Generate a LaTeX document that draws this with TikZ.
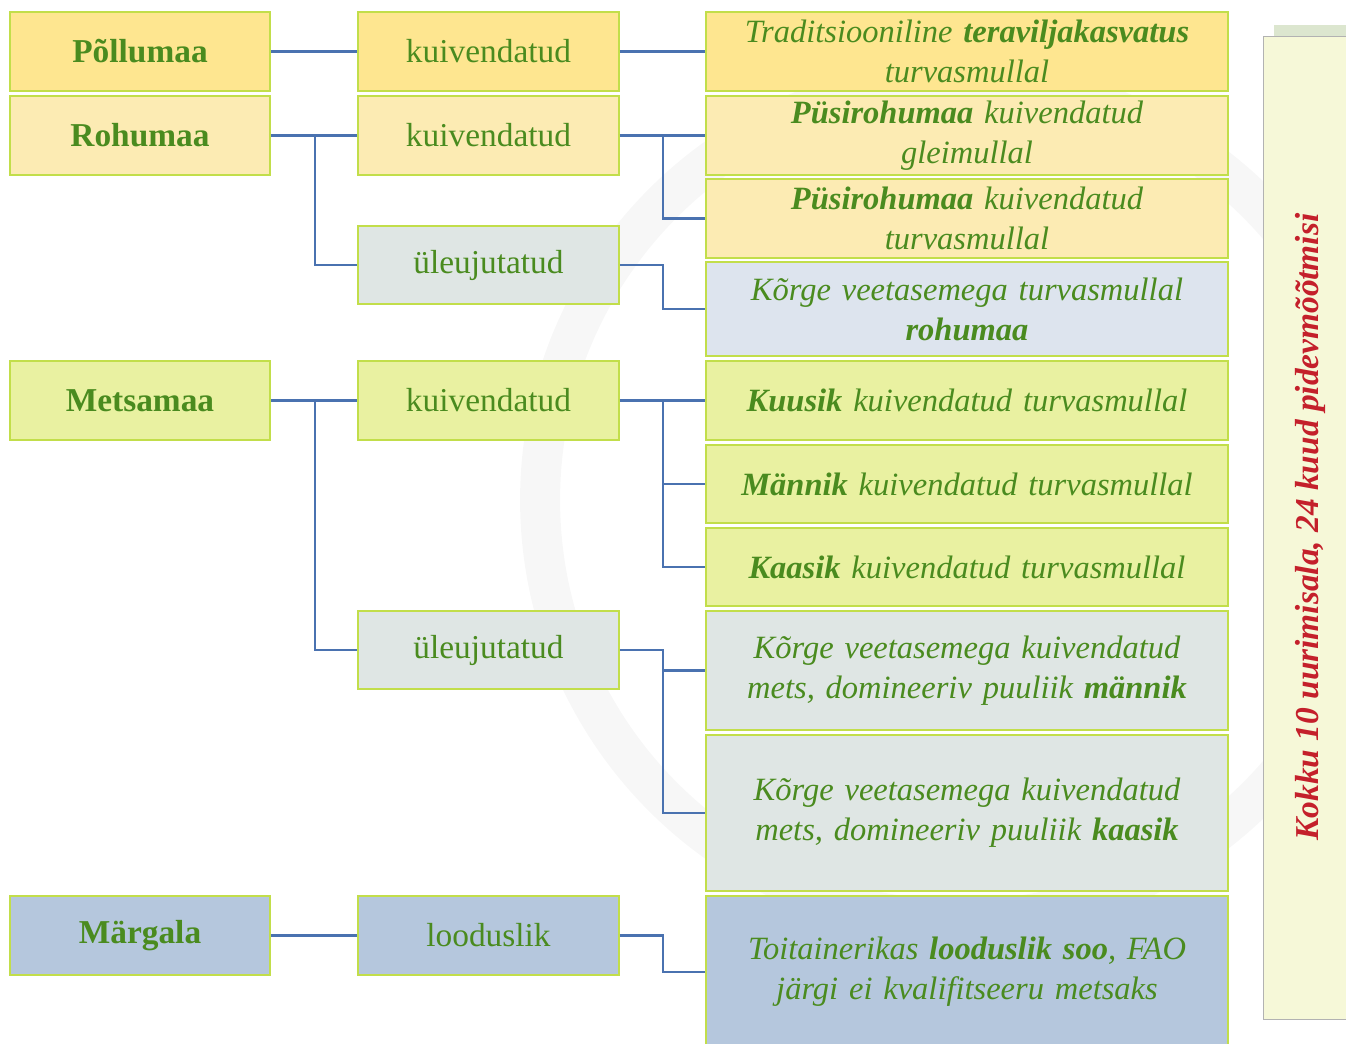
\documentclass[tikz,border=0pt]{standalone}
\usepackage{fontspec}
\setmainfont{Liberation Serif}
\usepackage{tikz}
\usetikzlibrary{positioning}
\definecolor{txtgreen}{HTML}{4A8B1F}
\definecolor{boxrim}{HTML}{C2DE4A}
\definecolor{linkblue}{HTML}{4A72B0}
\definecolor{pollufill}{HTML}{FEE690}
\definecolor{rohufill}{HTML}{FCEBB3}
\definecolor{ulefill}{HTML}{DFE6E4}
\definecolor{rohuwet}{HTML}{DDE4EE}
\definecolor{metsfill}{HTML}{E9F1A1}
\definecolor{margfill}{HTML}{B5C7DD}
\definecolor{panelfill}{HTML}{F6F8D8}
\definecolor{panelstrip}{HTML}{DCE6CF}
\definecolor{kokkured}{HTML}{C4202B}
\tikzstyle{box}=[draw=boxrim, line width=1.1pt, shape=rectangle, text=txtgreen, align=center, inner sep=2pt]
\tikzstyle{typ}=[box, minimum width=5.2cm, minimum height=1.58cm, font=\fontsize{19}{22}\selectfont\bfseries]
\tikzstyle{sub}=[box, minimum width=5.22cm, minimum height=1.58cm, font=\fontsize{19}{22}\selectfont]
\tikzstyle{site}=[box, minimum width=10.44cm, text width=10.2cm, font=\fontsize{18.5}{22.7}\selectfont\itshape]
\tikzstyle{link}=[draw=linkblue, line width=1.2pt]

\begin{document}
\begin{tikzpicture}[x=0.02cm, y=-0.02cm]
\useasboundingbox (0,0) rectangle (1346,1044);
% faint logo in the background
\draw[black!3, line width=0.8cm] (960,500) circle (8.4cm);
% the side panel
\fill[panelstrip] (1274,25) rectangle (1346,36);
\filldraw[fill=panelfill, draw=black!30] (1346,36) -- (1263,36) -- (1263,1019) -- (1346,1019);
\node[rotate=90, text=kokkured, font=\fontsize{19}{22}\selectfont\bfseries\itshape] (kokku) at (1310,527) {Kokku 10 uurimisala, 24 kuud pidevmõõtmisi};
% the land use types
\node[typ, fill=pollufill] (P1) at (140,51.5) {Põllumaa};
\node[typ, fill=rohufill] (P2) at (140,135.5) {Rohumaa};
\node[typ, fill=metsfill] (P3) at (140,400.5) {Metsamaa};
\node[typ, fill=margfill] (P4) at (140,935.5) {Märgala};
% the water regimes
\node[sub, fill=pollufill] (K1) at (488.5,51.5) {kuivendatud};
\node[sub, fill=rohufill] (K2) at (488.5,135.5) {kuivendatud};
\node[sub, fill=ulefill, minimum height=1.56cm] (U2) at (488.5,265) {üleujutatud};
\node[sub, fill=metsfill] (K3) at (488.5,400.5) {kuivendatud};
\node[sub, fill=ulefill, minimum height=1.56cm] (U3) at (488.5,650) {üleujutatud};
\node[sub, fill=margfill] (L4) at (488.5,935.5) {looduslik};
% the study sites
\node[site, fill=pollufill, minimum height=1.58cm] (S1) at (967,51.5) {Traditsiooniline \textbf{teraviljakasvatus}\\turvasmullal};
\node[site, fill=rohufill, minimum height=1.58cm] (S2) at (967,135.5) {\textbf{Püsirohumaa} kuivendatud\\gleimullal};
\node[site, fill=rohufill, minimum height=1.58cm] (S3) at (967,218.5) {\textbf{Püsirohumaa} kuivendatud\\turvasmullal};
\node[site, fill=rohuwet, minimum height=1.88cm] (S4) at (967,309) {Kõrge veetasemega turvasmullal\\\textbf{rohumaa}};
\node[site, fill=metsfill, minimum height=1.58cm] (S5) at (967,400.5) {\textbf{Kuusik} kuivendatud turvasmullal};
\node[site, fill=metsfill, minimum height=1.56cm] (S6) at (967,484) {\textbf{Männik} kuivendatud turvasmullal};
\node[site, fill=metsfill, minimum height=1.56cm] (S7) at (967,567) {\textbf{Kaasik} kuivendatud turvasmullal};
\node[site, fill=ulefill, minimum height=2.38cm] (S8) at (967,670.5) {Kõrge veetasemega kuivendatud\\mets, domineeriv puuliik \textbf{männik}};
\node[site, fill=ulefill, minimum height=3.12cm] (S9) at (967,813) {Kõrge veetasemega kuivendatud\\mets, domineeriv puuliik \textbf{kaasik}};
\node[site, fill=margfill, minimum height=3.04cm] (S10) at (967,972) {Toitainerikas \textbf{looduslik soo}, FAO\\järgi ei kvalifitseeru metsaks};
% the connectors
\draw[link] (P1) -- (K1);
\draw[link] (K1) -- (S1);
\draw[link] (P2) -- (K2);
\draw[link] (P2.east) -- ++(44,0) |- (U2.west);
\draw[link] (K2) -- (S2);
\draw[link] (K2.east) -- ++(43,0) |- (S3.west);
\draw[link] (U2.east) -- ++(43,0) |- (S4.west);
\draw[link] (P3) -- (K3);
\draw[link] (P3.east) -- ++(44,0) |- (U3.west);
\draw[link] (K3) -- (S5);
\draw[link] (K3.east) -- ++(43,0) |- (S6.west);
\draw[link] (K3.east) -- ++(43,0) |- (S7.west);
\draw[link] (U3.east) -- ++(43,0) |- (S8.west);
\draw[link] (U3.east) -- ++(43,0) |- (S9.west);
\draw[link] (P4) -- (L4);
\draw[link] (L4.east) -- ++(43,0) |- (S10.west);
\end{tikzpicture}
\end{document}
